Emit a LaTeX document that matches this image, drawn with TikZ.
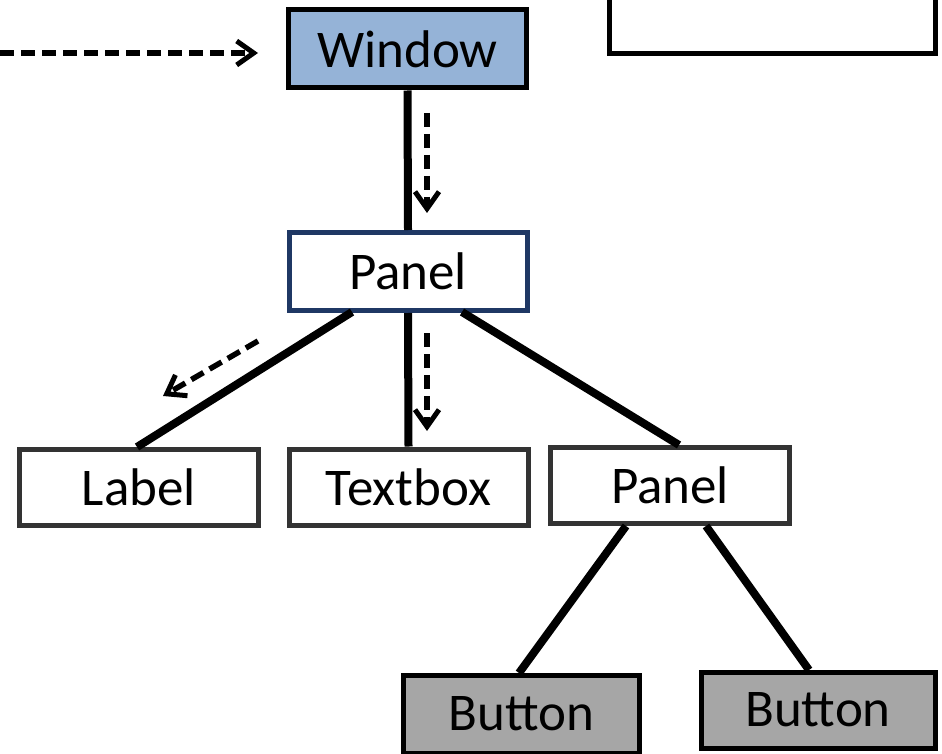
\documentclass[tikz,border=0pt]{standalone}
\usepackage{fontspec}
\setmainfont{Carlito}
\usetikzlibrary{arrows.meta,calc}
\definecolor{winblue}{HTML}{95B3D7}
\definecolor{panelblue}{HTML}{1F3864}
\definecolor{boxgray}{HTML}{333333}
\definecolor{btngray}{HTML}{A6A6A6}
\begin{document}
\begin{tikzpicture}[x=1pt,y=-1pt,
  every node/.style={font=\fontsize{53}{62}\selectfont, inner sep=0pt, text=black},
  box/.style={draw, rectangle, fill=white, line width=5pt, minimum width=#1, minimum height=76pt},
  winbox/.style={box=238pt, fill=winblue, draw=black, minimum height=78pt},
  panelbox/.style={box=238pt, draw=panelblue, minimum height=78pt},
  leafbox/.style={box=239pt, draw=boxgray},
  btnbox/.style={box=236pt, fill=btngray, draw=black, minimum height=78pt},
  conn/.style={line width=8pt},
  flow/.style={line width=5.5pt, dash pattern=on 14pt off 7pt, -{Straight Barb[length=17pt,width=24pt,line width=5pt]}}
]
\useasboundingbox (0,0) rectangle (942,754);

\coordinate (p1a) at (352,312);
\coordinate (p1c) at (462,312);
\coordinate (laba) at (137,447);
\coordinate (p2a) at (679,445);
\coordinate (p2l) at (626,526);
\coordinate (p2r) at (706,526);
\coordinate (b1a) at (519,673);
\coordinate (b2a) at (809,670);

\node[winbox] (win) at (407.5,49) {Window};
\node[panelbox] (p1) at (408,271.5) {Panel};
\node[leafbox] (lab) at (139,487) {Label};
\node[leafbox] (tb) at (408.5,487) {Textbox};
\node[leafbox] (p2) at (670,485) {Panel};
\node[btnbox] (b1) at (521.5,714) {Button};
\node[btnbox, minimum width=234pt, minimum height=76pt] (b2) at (818,710) {Button};
\node[draw=black, line width=5pt, fill=white, minimum width=326pt, minimum height=80pt] (top) at (772,14) {};

\draw[conn] (win.south) -- (p1.north);
\draw[conn] (p1a) -- (laba);
\draw[conn] (p1.south) -- (tb.north);
\draw[conn] (p1c) -- (p2a);
\draw[conn] (p2l) -- (b1a);
\draw[conn] (p2r) -- (b2a);

\coordinate (fa0) at (0,53);
\coordinate (fa1) at (258,53);
\coordinate (fb0) at (427,113);
\coordinate (fb1) at (427,213);
\coordinate (fc0) at (258,341);
\coordinate (fc1) at (163,396);
\coordinate (fd0) at (427,333);
\coordinate (fd1) at (427,431);
\draw[flow] (fa0) -- (fa1);
\draw[flow] (fb0) -- (fb1);
\draw[flow] (fc0) -- (fc1);
\draw[flow] (fd0) -- (fd1);
\end{tikzpicture}
\end{document}
